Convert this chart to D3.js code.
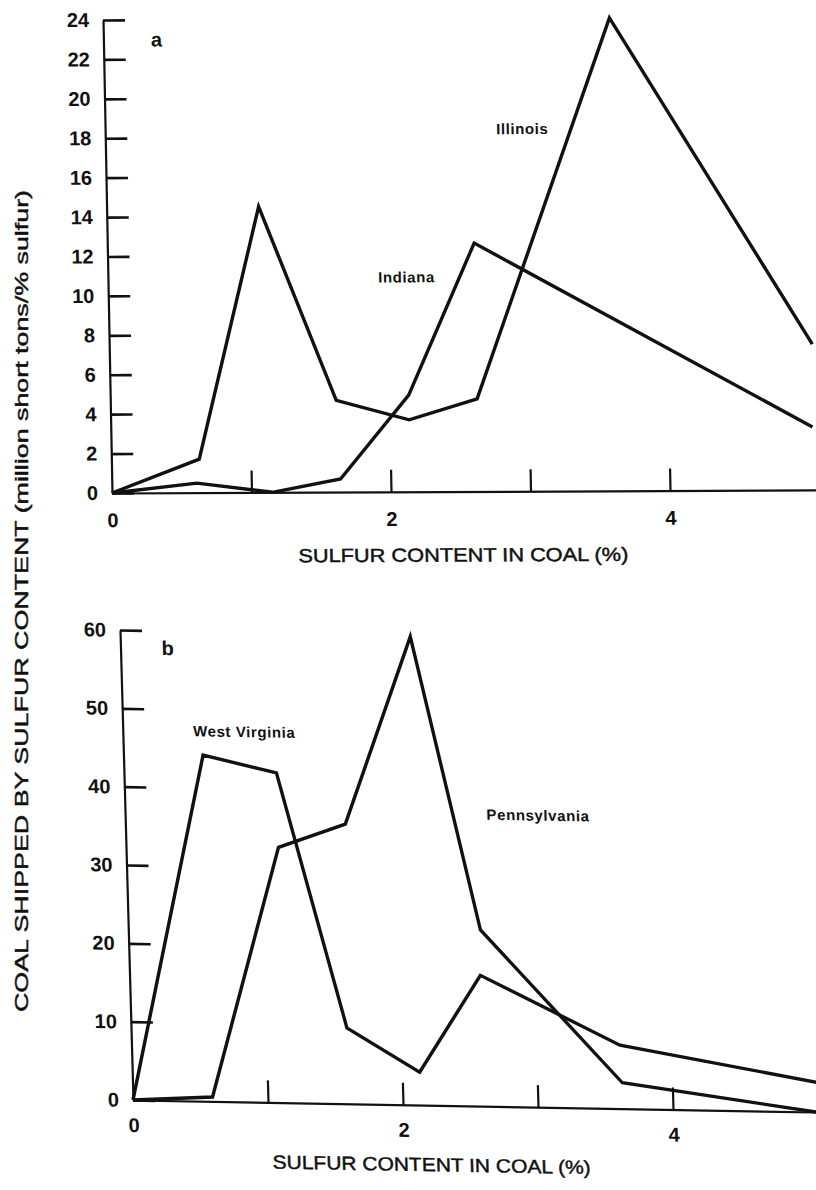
<!DOCTYPE html>
<html>
<head>
<meta charset="utf-8">
<script src="https://cdn.jsdelivr.net/npm/d3@7"></script>
<style>
  html, body { margin: 0; padding: 0; background: #fff; }
  svg { display: block; }
  text { font-family: "Liberation Sans", Arial, Helvetica, sans-serif; fill: #111; }
</style>
</head>
<body>
<svg id="chart" width="816" height="1190"></svg>
<script>
// ---------- Data ----------
// Panel a
const illinoisX = [0, 0.63, 1.09, 1.62, 2.14, 2.63, 3.63, 5.04];
const illinoisY = [0, 1.7, 14.5, 4.65, 3.65, 4.7, 24.0, 7.4];
const indianaX  = [0, 0.61, 1.15, 1.64, 2.14, 2.63, 5.03];
const indianaY  = [0, 0.48, 0.0, 0.66, 4.9, 12.6, 3.2];
// Panel b
const westVirginiaX = [0, 0.59, 1.13, 1.6, 2.13, 2.6, 3.62, 5.07];
const westVirginiaY = [0, 44.2, 42.1, 9.7, 4.2, 16.7, 8.1, 3.8];
const pennsylvaniaX = [0, 0.59, 1.13, 1.63, 2.15, 2.61, 3.63, 5.06];
const pennsylvaniaY = [0, 0.56, 32.6, 35.7, 59.8, 22.5, 3.3, 0.0];

// Ticks
const xMinorTicks = [1, 2, 3, 4];
const xTickLabels = [0, 2, 4];
const yTicksA = [0, 2, 4, 6, 8, 10, 12, 14, 16, 18, 20, 22, 24];
const yTicksB = [0, 10, 20, 30, 40, 50, 60];

// Texts
const xTitle = "SULFUR CONTENT IN COAL (%)";
const yTitle = "COAL SHIPPED BY SULFUR CONTENT (million short tons/% sulfur)";
const panelLabels = ["a", "b"];
const seriesNames = ["Illinois", "Indiana", "West Virginia", "Pennsylvania"];

// ---------- Drawing ----------
const svg = d3.select("#chart");
const zip = (xs, ys) => xs.map((x, i) => [x, ys[i]]);

function panel(cfg) {
  // slight skew mimics the scanned original
  const g = svg.append("g")
    .attr("transform", `matrix(1, ${cfg.b}, ${cfg.c}, 1, ${cfg.ox}, ${cfg.oy})`);

  const x = d3.scaleLinear().domain([0, 5.1]).range([0, 5.1 * cfg.pxPerX]);
  const y = d3.scaleLinear().domain([0, cfg.yMax]).range([0, -cfg.h]);

  // y axis: ticks inside, labels outside
  const ya = g.append("g").call(
    d3.axisLeft(y).tickValues(cfg.yTicks).tickSize(-cfg.tick).tickSizeOuter(0).tickPadding(cfg.yPad)
  );
  ya.select(".domain").attr("stroke", "#111").attr("stroke-width", 2.2);
  ya.selectAll(".tick line").attr("stroke", "#111").attr("stroke-width", 2.6);
  ya.selectAll(".tick text")
    .style("font-size", "20px").style("font-weight", "bold")
    .attr("fill", "#111");

  // x axis line + inner ticks
  const xa = g.append("g").call(
    d3.axisBottom(x).tickValues(xMinorTicks).tickSize(-cfg.tick).tickSizeOuter(0).tickFormat("")
  );
  xa.select(".domain").attr("stroke", "#111").attr("stroke-width", 2.2);
  xa.selectAll(".tick line").attr("stroke", "#111").attr("stroke-width", 2.2);

  // x tick labels
  const xl = g.append("g").call(
    d3.axisBottom(x).tickValues(xTickLabels).tickSize(0).tickPadding(cfg.xPad).tickFormat(d3.format("d"))
  );
  xl.select(".domain").remove();
  xl.selectAll(".tick text")
    .style("font-size", "20px").style("font-weight", "bold").attr("fill", "#111");

  // series lines
  const line = d3.line().x(d => x(d[0])).y(d => y(d[1]));
  cfg.series.forEach(s => {
    g.append("path")
      .datum(s)
      .attr("d", line)
      .attr("fill", "none")
      .attr("stroke", "#111")
      .attr("stroke-width", 3.4)
      .attr("stroke-linejoin", "miter");
  });

  // panel letter
  g.append("text")
    .attr("x", x(cfg.letterPos[0])).attr("y", y(cfg.letterPos[1]))
    .attr("text-anchor", "middle").attr("dominant-baseline", "central")
    .style("font-size", "20px").style("font-weight", "bold")
    .text(cfg.letter);

  // series name labels
  cfg.names.forEach(n => {
    g.append("text")
      .attr("x", x(n.pos[0])).attr("y", y(n.pos[1]))
      .attr("text-anchor", "middle").attr("dominant-baseline", "central")
      .style("font-size", "15px").style("font-weight", "bold")
      .style("letter-spacing", "0.6px")
      .text(n.text);
  });

  // x title
  g.append("text")
    .attr("x", x(cfg.titlePos[0])).attr("y", cfg.titleDy)
    .attr("text-anchor", "middle")
    .attr("textLength", cfg.titleLen).attr("lengthAdjust", "spacingAndGlyphs")
    .attr("stroke", "#111").attr("stroke-width", 0.45)
    .style("font-size", "19px")
    .text(xTitle);
}

panel({
  ox: 112, oy: 493, b: -0.0043, c: 0.019,
  pxPerX: 139.5, h: 473, yMax: 24, yTicks: yTicksA,
  tick: 22, yPad: 14, xPad: 20,
  series: [zip(illinoisX, illinoisY), zip(indianaX, indianaY)],
  letter: panelLabels[0], letterPos: [0.38, 23.0],
  names: [
    { text: seriesNames[0], pos: [2.99, 18.4] },
    { text: seriesNames[1], pos: [2.14, 10.9] }
  ],
  titlePos: [2.51], titleDy: 70, titleLen: 330
});

panel({
  ox: 133, oy: 1100, b: 0.0176, c: 0.0277,
  pxPerX: 135, h: 470, yMax: 60, yTicks: yTicksB,
  tick: 22, yPad: 14, xPad: 18,
  series: [zip(westVirginiaX, westVirginiaY), zip(pennsylvaniaX, pennsylvaniaY)],
  letter: panelLabels[1], letterPos: [0.35, 57.8],
  names: [
    { text: seriesNames[2], pos: [0.9, 47.3] },
    { text: seriesNames[3], pos: [3.06, 37.3] }
  ],
  titlePos: [2.2], titleDy: 66, titleLen: 318
});

// shared y title
svg.append("text")
  .attr("transform", "translate(28,601) rotate(-90)")
  .attr("text-anchor", "middle")
  .attr("textLength", 822).attr("lengthAdjust", "spacingAndGlyphs")
  .attr("stroke", "#111").attr("stroke-width", 0.45)
  .style("font-size", "19px")
  .text(yTitle);
</script>
</body>
</html>
